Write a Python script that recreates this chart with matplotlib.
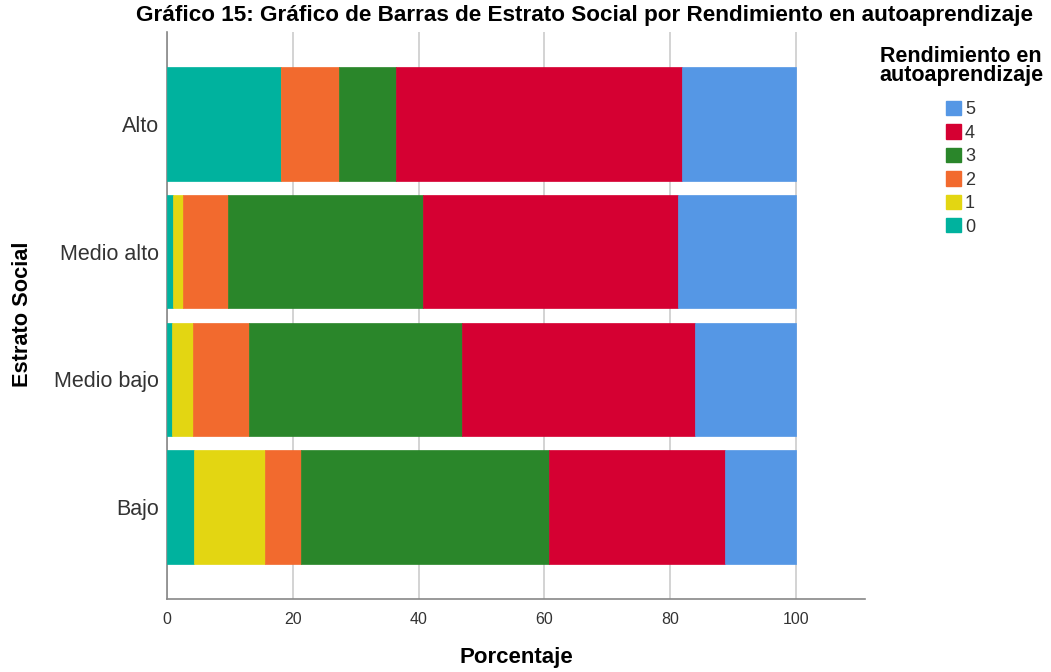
import matplotlib
matplotlib.use("Agg")
import matplotlib.pyplot as plt
from matplotlib.patches import Patch
import numpy as np

plt.rcParams['font.family'] = ['Liberation Sans', 'DejaVu Sans']

categories = ["Alto", "Medio alto", "Medio bajo", "Bajo"]
levels = ["0", "1", "2", "3", "4", "5"]
# percentages per level, one list per level in category order
pct_0 = [18.2, 0.9, 0.8, 4.3]
pct_1 = [0.0, 1.6, 3.4, 11.3]
pct_2 = [9.1, 7.2, 8.8, 5.7]
pct_3 = [9.1, 31.0, 33.9, 39.4]
pct_4 = [45.5, 40.6, 37.0, 28.1]
pct_5 = [18.1, 18.7, 16.1, 11.2]
colors = ["#00B29E", "#E3D612", "#F26A2E", "#2A862A", "#D50032", "#5597E5"]

series = [pct_0, pct_1, pct_2, pct_3, pct_4, pct_5]

W, H = 1051, 672
fig = plt.figure(figsize=(W/100, H/100), dpi=100)
ax = fig.add_axes([167/W, 1-599/H, 698/W, 567/H])

y = np.arange(len(categories))
left = np.zeros(len(categories))
for vals, col in zip(series, colors):
    ax.barh(y, vals, left=left, height=0.89, color=col, edgecolor=col,
            linewidth=0.5, zorder=3)
    left = left + np.array(vals)

ax.set_xlim(0, 111)
ax.set_ylim(3.72, -0.72)
ax.set_yticks(y)
ax.set_yticklabels(categories, fontsize=15.5, color="#333333")
ax.set_xticks([0, 20, 40, 60, 80, 100])
ax.tick_params(axis='x', labelsize=11.5, colors="#333333", length=0, pad=9)
ax.tick_params(axis='y', length=0, pad=6)
ax.grid(axis='x', color="#CCCCCC", linewidth=1.2, zorder=0)
for s in ['top', 'right']:
    ax.spines[s].set_visible(False)
for s in ['left', 'bottom']:
    ax.spines[s].set_color("#888888")
    ax.spines[s].set_linewidth(1.2)

ax.set_xlabel("Porcentaje", fontsize=16, fontweight='bold', va='center')
ax.xaxis.set_label_coords(0.5, (599-657)/567)
ax.set_ylabel("Estrato Social", fontsize=15.7, fontweight='bold', va='center')
ax.yaxis.set_label_coords((23-167)/698, (599-314)/567)

fig.text(585/W, 1-16/H, "Gráfico 15: Gráfico de Barras de Estrato Social por Rendimiento en autoaprendizaje",
         ha='center', va='center', fontsize=16.2, fontweight='bold')

fig.text(961/W, 1-66/H, "Rendimiento en\nautoaprendizaje", ha='center', va='center',
         fontsize=15.5, fontweight='bold', linespacing=0.92)

handles = [Patch(facecolor=c, edgecolor=c) for c in colors[::-1]]
labels = levels[::-1]
leg = fig.legend(handles, labels, loc='upper left', bbox_to_anchor=(946/W, 1-101/H),
                 frameon=False, fontsize=13, handlelength=0.85, handleheight=0.85,
                 handletextpad=0.2, labelspacing=0.33, borderaxespad=0, borderpad=0)
for t in leg.get_texts():
    t.set_color("#333333")

fig.savefig("out.png", dpi=100)
